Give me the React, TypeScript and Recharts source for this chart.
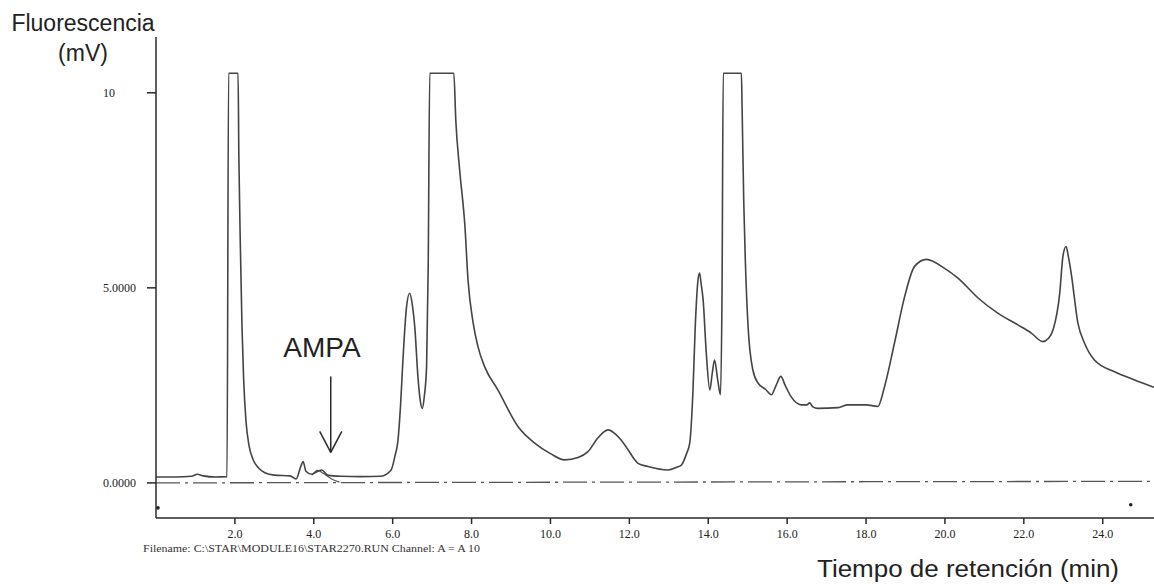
import React from 'react';
import {
  LineChart,
  Line,
  XAxis,
  YAxis,
  ReferenceLine,
  ReferenceDot,
} from 'recharts';

// ─────────────────────────────────────────────
// DATA
// ─────────────────────────────────────────────

const timeMin = [
  0.0, 0.5, 0.9, 1.05, 1.2, 1.5, 1.8, 1.84, 2.08, 2.1, 2.14, 2.18, 2.22, 2.28, 2.36, 2.46, 2.6, 2.76,
  3.0, 3.4, 3.55, 3.68, 3.73, 3.8, 3.95, 4.1, 4.2, 4.35, 4.7, 5.2, 5.7, 5.96, 6.06, 6.13, 6.2, 6.26,
  6.35, 6.43, 6.5, 6.56, 6.64, 6.7, 6.75, 6.8, 6.86, 6.9, 6.94, 7.55, 7.6, 7.7, 7.83, 7.91, 8.04,
  8.16, 8.33, 8.67, 9.18, 9.6, 10.0, 10.36, 10.7, 10.95, 11.2, 11.46, 11.65, 11.79, 12.0, 12.13,
  12.22, 12.47, 12.98, 13.2, 13.32, 13.45, 13.53, 13.61, 13.67, 13.74, 13.78, 13.82, 13.87, 13.95,
  14.04, 14.1, 14.16, 14.24, 14.31, 14.35, 14.38, 14.84, 14.86, 14.9, 14.94, 15.01, 15.13, 15.26,
  15.45, 15.6, 15.72, 15.84, 15.95, 16.1, 16.36, 16.5, 16.57, 16.65, 16.78, 17.29, 17.54, 18.0,
  18.3, 18.47, 18.72, 18.98, 19.23, 19.53, 19.99, 20.33, 20.84, 21.34, 21.85, 22.19, 22.48, 22.62,
  22.74, 22.91, 22.99, 23.07, 23.13, 23.2, 23.37, 23.54, 23.79, 24.3, 24.81, 25.3,
];

const signalMv = [
  0.15, 0.15, 0.17, 0.22, 0.18, 0.15, 0.16, 10.5, 10.5, 8.4, 6.0, 4.0, 2.7, 1.6, 0.95, 0.6, 0.38, 0.26,
  0.2, 0.18, 0.1, 0.45, 0.55, 0.3, 0.22, 0.3, 0.33, 0.2, 0.17, 0.16, 0.17, 0.33, 0.7, 1.05, 2.0, 3.15,
  4.5, 4.86, 4.55, 4.0, 2.72, 2.1, 1.91, 2.2, 3.0, 5.5, 10.5, 10.5, 9.3, 8.0, 6.6, 5.2, 4.1,
  3.5, 2.98, 2.38, 1.44, 1.02, 0.75, 0.59, 0.65, 0.8, 1.15, 1.36, 1.25, 1.1, 0.8, 0.6,
  0.5, 0.42, 0.33, 0.4, 0.46, 0.75, 1.02, 2.3, 4.0, 5.2, 5.38, 5.1, 4.69, 3.33,
  2.38, 2.8, 3.15, 2.64, 2.26, 5.0, 10.5, 10.5, 9.5, 7.2, 5.7, 4.0, 2.9, 2.56,
  2.4, 2.26, 2.5, 2.73, 2.5, 2.21, 2.0, 2.0, 2.05, 1.95, 1.91, 1.93, 2.0, 2.0,
  1.96, 2.47, 3.58, 4.78, 5.55, 5.73, 5.5, 5.25, 4.74, 4.35, 4.05, 3.84, 3.62, 3.7,
  3.92, 4.86, 5.8, 6.06, 5.8, 5.38, 4.1, 3.58, 3.15, 2.85, 2.64, 2.45,
];

// blank / reference trace (dash-dot)
const blankTime = [0.0, 6.0, 12.0, 18.0, 25.3];
const blankSignal = [0.0, 0.01, 0.02, 0.03, 0.04];

// small residual trace under the AMPA arrow
const ampaTime = [3.95, 4.1, 4.25, 4.45, 4.65];
const ampaSignal = [0.2, 0.32, 0.24, 0.1, 0.02];

const xTicks = [2, 4, 6, 8, 10, 12, 14, 16, 18, 20, 22, 24];
const yTicks = [0, 5, 10];

const zip = (xs: number[], ys: number[]) => xs.map((t, i) => ({ t, v: ys[i] }));

const mainData = zip(timeMin, signalMv);
const blankData = zip(blankTime, blankSignal);
const ampaData = zip(ampaTime, ampaSignal);

const INK = '#2a2a2a';
const SERIF = '"Liberation Serif", "Times New Roman", serif';
const SANS = '"Liberation Sans", Arial, sans-serif';

function YTick({ y, payload }: any) {
  const v = payload.value as number;
  return (
    <text x={103} y={y} dy="0.35em" fontFamily={SERIF} fontSize={12} fill="#222" stroke="none">
      {v === 10 ? '10' : v.toFixed(4)}
    </text>
  );
}

export default function App() {
  return (
    <div style={{ position: 'absolute', left: 0, top: 0, width: 1154, height: 584, background: '#fff' }}>
      <LineChart
        width={1154}
        height={584}
        margin={{ top: 37, right: 0, bottom: 36, left: 0 }}
      >
        <XAxis
          type="number"
          dataKey="t"
          domain={[0, 25.3]}
          ticks={xTicks}
          tickFormatter={(v: number) => v.toFixed(1)}
          height={30}
          tickSize={6}
          tickMargin={5}
          allowDataOverflow
          stroke={INK}
          strokeWidth={1.5}
          tick={{ fontFamily: SERIF, fontSize: 12, fill: '#222' }}
        />
        <YAxis
          type="number"
          dataKey="v"
          domain={[-0.9, 11.43]}
          ticks={yTicks}
          width={156}
          tickSize={9}
          allowDataOverflow
          stroke={INK}
          strokeWidth={1.5}
          tick={<YTick />}
        />
        <Line
          data={blankData}
          dataKey="v"
          type="linear"
          stroke="#555"
          strokeWidth={1.3}
          strokeDasharray="24 5 3 5"
          dot={false}
          isAnimationActive={false}
        />
        <Line
          data={ampaData}
          dataKey="v"
          type="monotone"
          stroke="#555"
          strokeWidth={1.2}
          dot={false}
          isAnimationActive={false}
        />
        <Line
          data={mainData}
          dataKey="v"
          type="monotone"
          stroke="#444"
          strokeWidth={1.6}
          dot={false}
          isAnimationActive={false}
        />
        {/* AMPA arrow */}
        <ReferenceLine segment={[{ x: 4.43, y: 2.73 }, { x: 4.43, y: 0.78 }]} stroke={INK} strokeWidth={1.5} />
        <ReferenceLine segment={[{ x: 4.15, y: 1.32 }, { x: 4.43, y: 0.78 }]} stroke={INK} strokeWidth={1.5} />
        <ReferenceLine segment={[{ x: 4.71, y: 1.32 }, { x: 4.43, y: 0.78 }]} stroke={INK} strokeWidth={1.5} />
        <ReferenceDot x={0.05} y={-0.64} r={1.8} fill="#222" stroke="none" />
        <ReferenceDot x={24.71} y={-0.56} r={1.8} fill="#222" stroke="none" />
      </LineChart>

      <svg
        width={1154}
        height={584}
        style={{ position: 'absolute', left: 0, top: 0, pointerEvents: 'none' }}
      >
        <text x={83} y={31} textAnchor="middle" fontFamily={SANS} fontSize={23} fill="#222">
          Fluorescencia
        </text>
        <text x={83} y={61} textAnchor="middle" fontFamily={SANS} fontSize={23} fill="#222">
          (mV)
        </text>
        <text x={322} y={357} textAnchor="middle" fontFamily={SANS} fontSize={28} fill="#222">
          AMPA
        </text>
        <text
          x={143}
          y={552}
          fontFamily={SERIF}
          fontSize={10}
          fill="#333"
          textLength={337}
          lengthAdjust="spacingAndGlyphs"
        >
          Filename: C:\STAR\MODULE16\STAR2270.RUN  Channel: A = A 10
        </text>
        <text
          x={817}
          y={577}
          fontFamily={SANS}
          fontSize={23}
          fill="#222"
          textLength={302}
          lengthAdjust="spacingAndGlyphs"
        >
          Tiempo de retención (min)
        </text>
      </svg>
    </div>
  );
}
